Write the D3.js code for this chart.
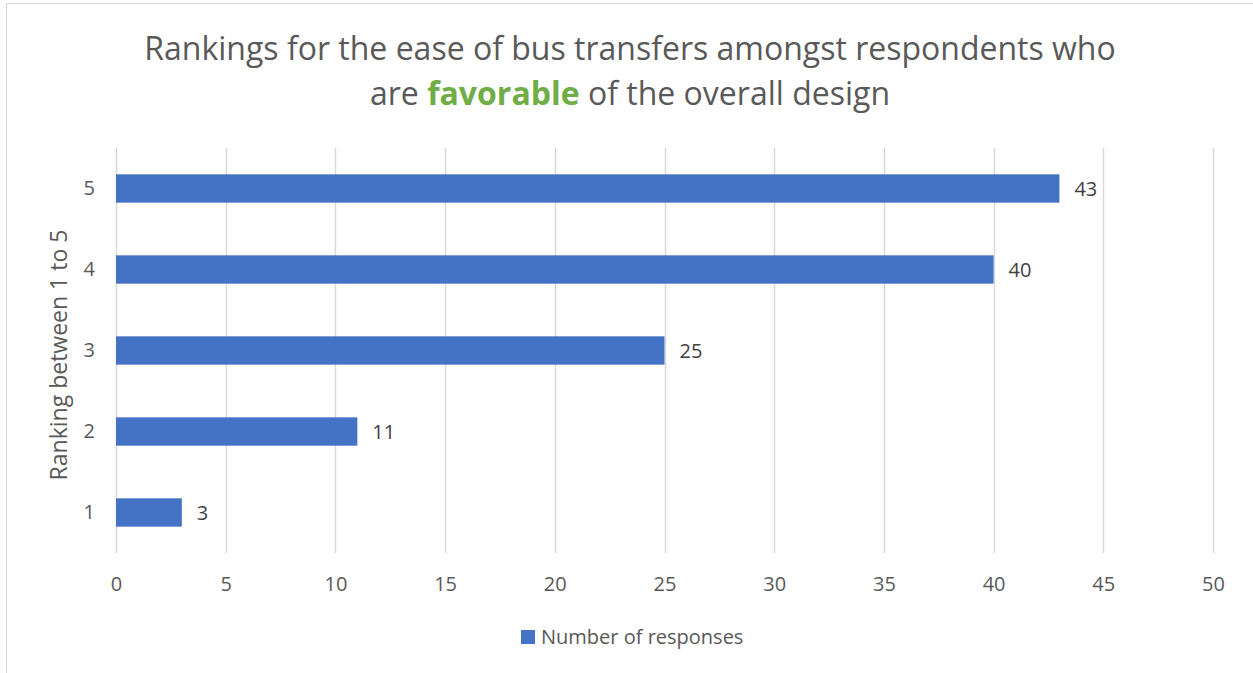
<!DOCTYPE html>
<html>
<head>
<meta charset="utf-8">
<script src="https://cdn.jsdelivr.net/npm/d3@7"></script>
<style>
  body { margin: 0; background: #fff; }
  svg { display: block; font-family: "Open Sans", "Noto Sans", sans-serif; }
</style>
</head>
<body>
<div id="chart"></div>
<script>
var categories = ["1", "2", "3", "4", "5"],
    responses = [3, 11, 25, 40, 43],
    xTicks = [0, 5, 10, 15, 20, 25, 30, 35, 40, 45, 50],
    seriesName = "Number of responses";

var width = 1253,
    height = 673,
    margin = {top: 148, right: 40, bottom: 120, left: 116},
    plotW = 1213 - margin.left,
    plotH = 553 - margin.top;

var svg = d3.select("#chart").append("svg")
    .attr("width", width)
    .attr("height", height);

// chart frame
svg.append("rect")
    .attr("x", 6.5).attr("y", 3.5)
    .attr("width", width + 10).attr("height", height + 10)
    .attr("fill", "#fff")
    .attr("stroke", "#d9d9d9");

var g = svg.append("g").attr("transform", "translate(" + margin.left + "," + margin.top + ")");

var x = d3.scaleLinear().domain([0, 50]).range([0, plotW]),
    y = d3.scaleBand().domain(categories.slice().reverse()).range([0, plotH]).paddingInner(0.65).paddingOuter(0.325);

// gridlines
g.selectAll("line.grid")
    .data(xTicks)
    .enter().append("line")
    .attr("class", "grid")
    .attr("x1", function (d) { return Math.round(x(d)) + 0.5; })
    .attr("x2", function (d) { return Math.round(x(d)) + 0.5; })
    .attr("y1", 0).attr("y2", plotH)
    .attr("stroke", "#d9d9d9").attr("stroke-width", 1.5);

// x axis
var xAxis = g.append("g")
    .attr("transform", "translate(0," + plotH + ")")
    .call(d3.axisBottom(x).tickValues(xTicks).tickSize(0).tickPadding(24));
xAxis.select(".domain").remove();
xAxis.selectAll("text").attr("font-size", 20).attr("fill", "#595959").style("font-family", "Open Sans");

// y axis
var yAxis = g.append("g")
    .call(d3.axisLeft(y).tickSize(0).tickPadding(21));
yAxis.select(".domain").remove();
yAxis.selectAll("text").attr("font-size", 20).attr("fill", "#595959").style("font-family", "Open Sans");

// bars
var data = categories.map(function (c, i) { return {cat: c, v: responses[i]}; });

g.selectAll("rect.bar")
    .data(data)
    .enter().append("rect")
    .attr("class", "bar")
    .attr("x", x(0))
    .attr("y", function (d) { return y(d.cat); })
    .attr("width", function (d) { return x(d.v) - x(0); })
    .attr("height", y.bandwidth())
    .attr("fill", "#4472c4");

// data labels
g.selectAll("text.lbl")
    .data(data)
    .enter().append("text")
    .attr("class", "lbl")
    .attr("x", function (d) { return x(d.v) + 15; })
    .attr("y", function (d) { return y(d.cat) + y.bandwidth() / 2; })
    .attr("dy", "0.35em")
    .attr("font-size", 20)
    .attr("fill", "#404040")
    .text(function (d) { return d.v; });

// y axis title
svg.append("text")
    .attr("transform", "translate(67," + (margin.top + 207) + ") rotate(-90)")
    .attr("text-anchor", "middle")
    .attr("font-size", 23)
    .attr("fill", "#595959")
    .text("Ranking between 1 to 5");

// title
var title = svg.append("text")
    .attr("text-anchor", "middle")
    .attr("font-size", 32)
    .attr("fill", "#595959");
title.append("tspan").attr("x", 630).attr("y", 60)
    .text("Rankings for the ease of bus transfers amongst respondents who");
var l2 = title.append("tspan").attr("x", 630).attr("y", 105);
l2.append("tspan").text("are ");
l2.append("tspan").attr("font-weight", "bold").attr("fill", "#70ad47").text("favorable");
l2.append("tspan").text(" of the overall design");

// legend
var leg = svg.append("g").attr("transform", "translate(521,630)");
leg.append("rect").attr("width", 14).attr("height", 14).attr("fill", "#4472c4");
leg.append("text").attr("x", 20).attr("y", 7).attr("dy", "0.35em")
    .attr("font-size", 20).attr("fill", "#595959").text(seriesName);
</script>
</body>
</html>
